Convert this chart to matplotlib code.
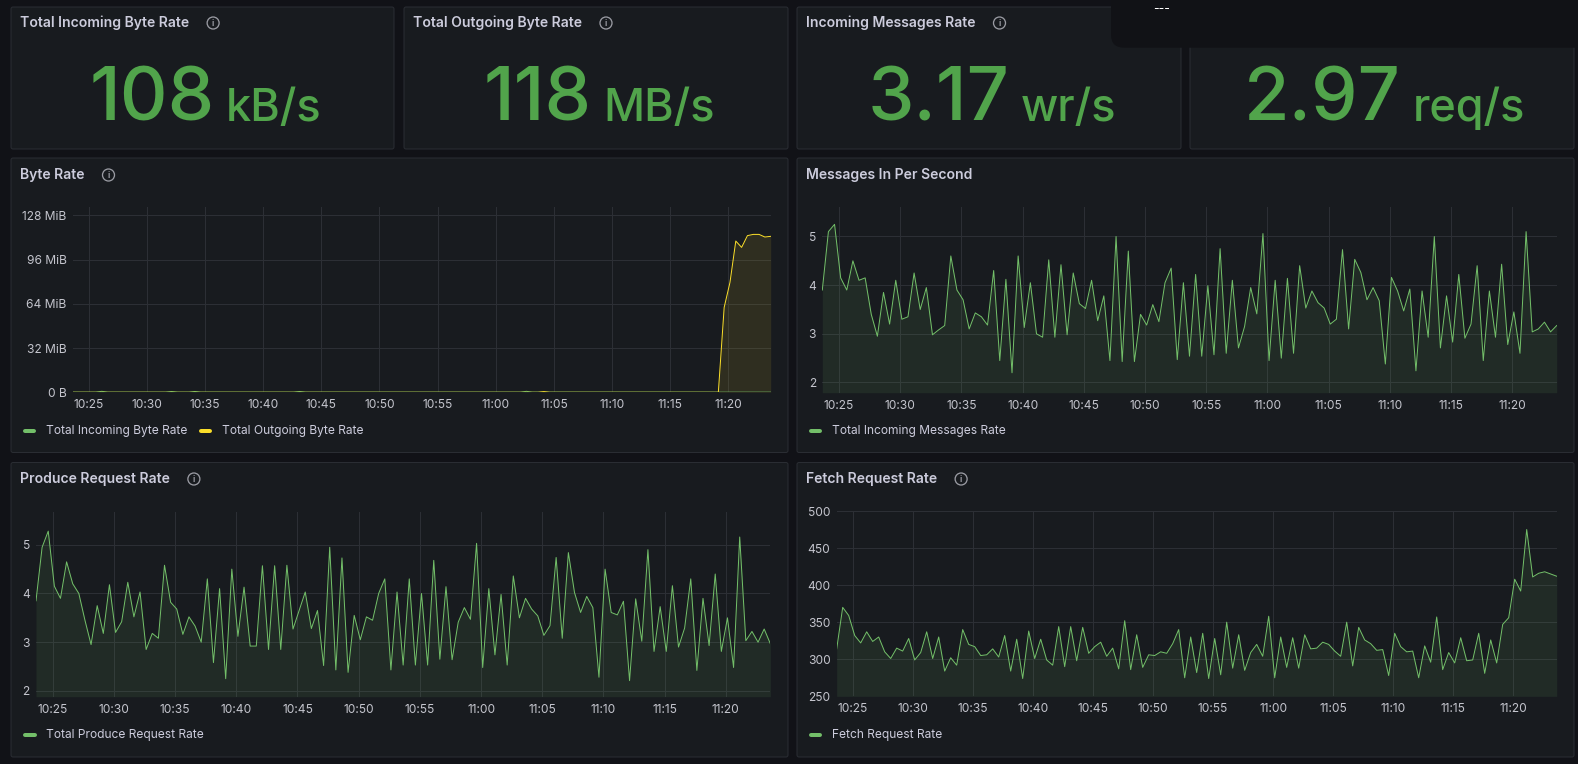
import numpy as np
import pandas as pd
import matplotlib
matplotlib.use('Agg')
import matplotlib.pyplot as plt
import matplotlib.dates as mdates
from matplotlib.patches import Circle, FancyBboxPatch
from matplotlib.ticker import FuncFormatter, FixedLocator

# ---------------- data (30 s steps, last hour) ----------------
START = "2024-05-14 10:23:38"

stat_titles = ["Total Incoming Byte Rate", "Total Outgoing Byte Rate",
               "Incoming Messages Rate", None]
stat_numbers = ["108", "118", "3.17", "2.97"]
stat_units = ["kB/s", "MB/s", "wr/s", "req/s"]

# MiB/s
incoming_bytes = [0.1, 0.1, 0.1, 0.1, 0.1, 0.7, 0.1, 0.1, 0.1, 0.1,
                  0.1, 0.1, 0.1, 0.1, 0.1, 0.1, 0.1, 0.6, 0.1, 0.1,
                  0.1, 0.6, 0.1, 0.1, 0.1, 0.1, 0.1, 0.1, 0.1, 0.1,
                  0.1, 0.1, 0.1, 0.1, 0.1, 0.1, 0.1, 0.1, 0.1, 0.6,
                  0.1, 0.1, 0.1, 0.1, 0.1, 0.1, 0.1, 0.1, 0.1, 0.1,
                  0.1, 0.1, 0.1, 0.1, 0.1, 0.1, 0.1, 0.1, 0.1, 0.1,
                  0.1, 0.1, 0.1, 0.1, 0.1, 0.1, 0.1, 0.1, 0.1, 0.1,
                  0.1, 0.1, 0.1, 0.1, 0.1, 0.1, 0.1, 0.1, 0.7, 0.1,
                  0.1, 0.1, 0.1, 0.1, 0.1, 0.1, 0.1, 0.1, 0.1, 0.1,
                  0.1, 0.1, 0.1, 0.1, 0.1, 0.1, 0.1, 0.1, 0.1, 0.1,
                  0.1, 0.1, 0.1, 0.1, 0.1, 0.1, 0.1, 0.1, 0.1, 0.1,
                  0.1, 0.1, 0.1, 0.1, 0.1, 0.1, 0.1, 0.1, 0.1, 0.1,
                  0.103]
outgoing_bytes = [0, 0, 0, 0, 0, 0, 0, 0, 0, 0,
                  0, 0, 0, 0, 0, 0, 0, 0, 0, 0,
                  0, 0, 0, 0, 0, 0, 0, 0, 0, 0,
                  0, 0, 0, 0, 0, 0, 0, 0, 0, 0,
                  0, 0, 0, 0, 0, 0, 0, 0, 0, 0,
                  0, 0, 0, 0, 0, 0, 0, 0, 0, 0,
                  0, 0, 0, 0, 0, 0, 0, 0, 0, 0,
                  0, 0, 0, 0, 0, 0, 0, 0, 0, 0,
                  0, 0.5, 0, 0, 0, 0, 0, 0, 0, 0,
                  0, 0, 0, 0, 0, 0, 0, 0, 0, 0,
                  0, 0, 0, 0, 0, 0, 0, 0, 0, 0,
                  0, 0, 61.4, 79.5, 109.4, 104.8, 113.3, 114.2, 114.2, 112.3,
                  112.8]

messages_in = [3.9, 5.1, 5.25, 4.15, 3.9, 4.5, 4.1, 4.15, 3.4, 2.95,
               3.85, 3.2, 4.1, 3.3, 3.35, 4.25, 3.5, 3.95, 2.98, 3.08,
               3.17, 4.6, 3.9, 3.7, 3.1, 3.43, 3.35, 3.18, 4.3, 2.45,
               4.12, 2.2, 4.6, 3.13, 4.05, 3.0, 2.93, 4.52, 2.93, 4.42,
               2.98, 4.25, 3.62, 3.52, 4.1, 3.27, 3.78, 2.45, 5.0, 2.43,
               4.7, 2.43, 3.4, 3.18, 3.6, 3.25, 4.05, 4.35, 2.47, 4.05,
               2.54, 4.22, 2.54, 3.99, 2.57, 4.75, 2.6, 4.1, 2.71, 3.15,
               3.95, 3.41, 5.06, 2.45, 4.1, 2.5, 4.14, 2.6, 4.4, 3.53,
               3.88, 3.64, 3.53, 3.2, 3.3, 4.73, 3.1, 4.53, 4.26, 3.7,
               3.95, 3.68, 2.38, 4.16, 3.88, 3.47, 3.92, 2.24, 3.88, 2.93,
               5.0, 2.71, 3.78, 2.83, 4.22, 2.91, 3.2, 4.4, 2.45, 3.88,
               2.93, 4.43, 2.78, 3.45, 2.6, 5.1, 3.04, 3.1, 3.24, 3.04,
               3.17]

produce_rate = [3.85, 4.95, 5.28, 4.15, 3.9, 4.65, 4.2, 4.0, 3.45, 2.95,
                3.75, 3.18, 4.18, 3.2, 3.42, 4.23, 3.52, 4.03, 2.85, 3.18,
                3.08, 4.58, 3.82, 3.68, 3.16, 3.52, 3.33, 3.0, 4.3, 2.58,
                4.1, 2.25, 4.5, 3.12, 4.13, 2.92, 2.92, 4.57, 2.85, 4.57,
                2.85, 4.58, 3.27, 3.65, 4.03, 3.28, 3.65, 2.52, 4.95, 2.43,
                4.73, 2.38, 3.55, 3.05, 3.52, 3.45, 4.0, 4.3, 2.43, 4.03,
                2.53, 4.3, 2.53, 4.0, 2.53, 4.68, 2.65, 4.14, 2.64, 3.41,
                3.71, 3.47, 5.03, 2.48, 4.1, 2.74, 3.98, 2.53, 4.36, 3.5,
                3.9, 3.68, 3.54, 3.14, 3.34, 4.74, 3.08, 4.84, 4.02, 3.61,
                3.94, 3.71, 2.28, 4.5, 3.61, 3.56, 3.84, 2.21, 3.89, 3.02,
                4.9, 2.81, 3.73, 2.81, 4.16, 2.9, 3.29, 4.3, 2.42, 3.9,
                2.93, 4.4, 2.81, 3.5, 2.48, 5.16, 3.03, 3.22, 3.0, 3.27,
                2.97]

fetch_rate = [314, 370, 359, 332, 322, 337, 324, 330, 310, 301,
              315, 311, 328, 299, 309, 337, 301, 330, 284, 302,
              292, 340, 320, 317, 305, 306, 314, 303, 332, 284,
              327, 274, 338, 301, 327, 299, 292, 344, 290, 344,
              298, 343, 308, 317, 323, 304, 315, 287, 352, 286,
              333, 289, 306, 305, 310, 308, 321, 340, 275, 330,
              282, 335, 274, 328, 279, 350, 288, 333, 285, 309,
              320, 304, 358, 275, 330, 289, 329, 288, 333, 314,
              315, 323, 320, 311, 304, 350, 291, 343, 326, 321,
              312, 313, 278, 335, 317, 310, 311, 275, 318, 296,
              357, 286, 309, 295, 329, 298, 299, 335, 281, 326,
              295, 347, 356, 408, 392, 475, 411, 416, 418, 415,
              412]

# ---------------- style ----------------
W, H = 1578, 764
PT = 0.72                      # px -> pt at dpi 100
CANVAS = '#111217'
PANEL = '#181b1f'
BORDER = '#2a2d33'
TEXT = '#ccccdc'
TICK = '#c4c5cd'
GRID = '#2c2f35'
ICON = '#9a9ba3'
GREEN = '#73bf69'
YELLOW = '#fade2a'
STAT_GREEN = '#51a44b'
FONT = ['Inter', 'DejaVu Sans']
plt.rcParams['font.family'] = FONT

times = pd.date_range(START, periods=len(messages_in), freq="30s").to_numpy()
x_from = np.datetime64(pd.Timestamp(START))
x_to = x_from + np.timedelta64(60, 'm')

fig = plt.figure(figsize=(W / 100, H / 100), dpi=100)
fig.patch.set_facecolor(CANVAS)
bg = fig.add_axes([0, 0, 1, 1], zorder=0)
bg.set_xlim(0, W)
bg.set_ylim(H, 0)
bg.axis('off')
renderer = fig.canvas.get_renderer()


def panel(l, t, r, b):
    bg.add_patch(FancyBboxPatch((l, t), r - l, b - t,
                                boxstyle='round,pad=0,rounding_size=2',
                                facecolor=PANEL, edgecolor=BORDER, lw=1 * PT))


def title(x, y, text, icon=True):
    t = bg.text(x, y, text, fontsize=14 * PT, color=TEXT, fontweight='semibold',
                ha='left', va='center')
    if icon:
        w = t.get_window_extent(renderer).width
        cx = x + w + 24
        bg.add_patch(Circle((cx, y), 6, facecolor='none', edgecolor=ICON,
                            lw=1.3 * PT))
        bg.text(cx, y + 0.5, 'i', fontsize=8 * PT, color=ICON, fontweight='bold',
                ha='center', va='center')


def legend(y, items):
    for x0, x1, tx, color, label in items:
        bg.plot([x0 + 2, x1 - 2], [y, y], color=color, lw=4 * PT,
                solid_capstyle='round')
        bg.text(tx, y, label, fontsize=12 * PT, color=TEXT, ha='left', va='center')


def plot_axes(l, t, r, b):
    ax = fig.add_axes([l / W, 1 - b / H, (r - l) / W, (b - t) / H], zorder=1)
    ax.set_facecolor('none')
    for s in ax.spines.values():
        s.set_visible(False)
    ax.grid(True, color=GRID, lw=1 * PT)
    ax.set_axisbelow(True)
    ax.tick_params(length=0, colors=TICK, labelsize=12 * PT)
    ax.tick_params(axis='x', pad=5)
    ax.tick_params(axis='y', pad=4.5)
    ax.set_xlim(x_from, x_to)
    ax.xaxis.set_major_locator(mdates.MinuteLocator(byminute=range(0, 60, 5)))
    ax.xaxis.set_major_formatter(mdates.DateFormatter('%H:%M'))
    return ax


def series(ax, values, color, floor):
    ax.plot(times, values, color=color, lw=1 * PT, zorder=3)
    ax.fill_between(times, values, floor, color=color, alpha=0.1, lw=0, zorder=2)


# ---------------- stat row ----------------
stat_boxes = [(11, 394), (404, 788), (797, 1181), (1190, 1574)]
for (l, r), ttl, num, unit in zip(stat_boxes, stat_titles, stat_numbers, stat_units):
    panel(l, 7, r, 149)
    if ttl:
        title(l + 9, 23, ttl)
    t1 = bg.text(0, 120.5, num, fontsize=74 * PT, color=STAT_GREEN,
                 fontweight='medium', ha='left', va='baseline')
    t2 = bg.text(0, 120.5, unit, fontsize=45 * PT, color=STAT_GREEN,
                 fontweight='medium', ha='left', va='baseline')
    w1 = t1.get_window_extent(renderer).width
    w2 = t2.get_window_extent(renderer).width
    gap = 12
    x0 = (l + r) / 2 - (w1 + gap + w2) / 2 + 3
    t1.set_x(x0)
    t2.set_x(x0 + w1 + gap)

# overlay box in the top right corner
bg.add_patch(FancyBboxPatch((1111, -30), 500, 77.7,
                            boxstyle='round,pad=0,rounding_size=13',
                            facecolor='#111216', edgecolor='none', zorder=5))
bg.text(1153, 9, '---', fontsize=12 * PT, color='white', ha='left', va='center',
        zorder=6)

# ---------------- panels ----------------
panel(11, 158, 788, 452.5)
panel(797, 158, 1574, 452.5)
panel(11, 462.5, 788, 757)
panel(797, 462.5, 1574, 757)

title(20, 175, "Byte Rate")
title(806, 175, "Messages In Per Second", icon=False)
title(20, 479, "Produce Request Rate")
title(806, 479, "Fetch Request Rate")

# Byte Rate
ax = plot_axes(72.7, 207.3, 770.7, 392.3)
series(ax, incoming_bytes, GREEN, 0)
series(ax, outgoing_bytes, YELLOW, 0)
ax.set_ylim(0, 133.8)
ax.yaxis.set_major_locator(FixedLocator([0, 32, 64, 96, 128]))
ax.yaxis.set_major_formatter(FuncFormatter(
    lambda v, p: '0 B' if v == 0 else f'{int(v)} MiB'))
legend(431, [(23.3, 36, 45.7, GREEN, "Total Incoming Byte Rate"),
             (199.3, 212, 221.7, YELLOW, "Total Outgoing Byte Rate")])

# Messages In Per Second
ax = plot_axes(822.3, 207.3, 1556.7, 392.7)
series(ax, messages_in, GREEN, 1.79)
ax.set_ylim(1.79, 5.6)
ax.yaxis.set_major_locator(FixedLocator([2, 3, 4, 5]))
legend(431, [(809.3, 822.3, 831.7, GREEN, "Total Incoming Messages Rate")])

# Produce Request Rate
ax = plot_axes(36, 511.7, 770.3, 696.7)
series(ax, produce_rate, GREEN, 1.88)
ax.set_ylim(1.88, 5.68)
ax.yaxis.set_major_locator(FixedLocator([2, 3, 4, 5]))
legend(735, [(23.3, 36.7, 45.7, GREEN, "Total Produce Request Rate")])

# Fetch Request Rate
ax = plot_axes(836.7, 511, 1556.7, 696.3)
series(ax, fetch_rate, GREEN, 250)
ax.set_ylim(250, 500)
ax.yaxis.set_major_locator(FixedLocator([250, 300, 350, 400, 450, 500]))
legend(735, [(809.3, 822.3, 831.7, GREEN, "Fetch Request Rate")])

fig.savefig('out.png', dpi=100, facecolor=CANVAS)
